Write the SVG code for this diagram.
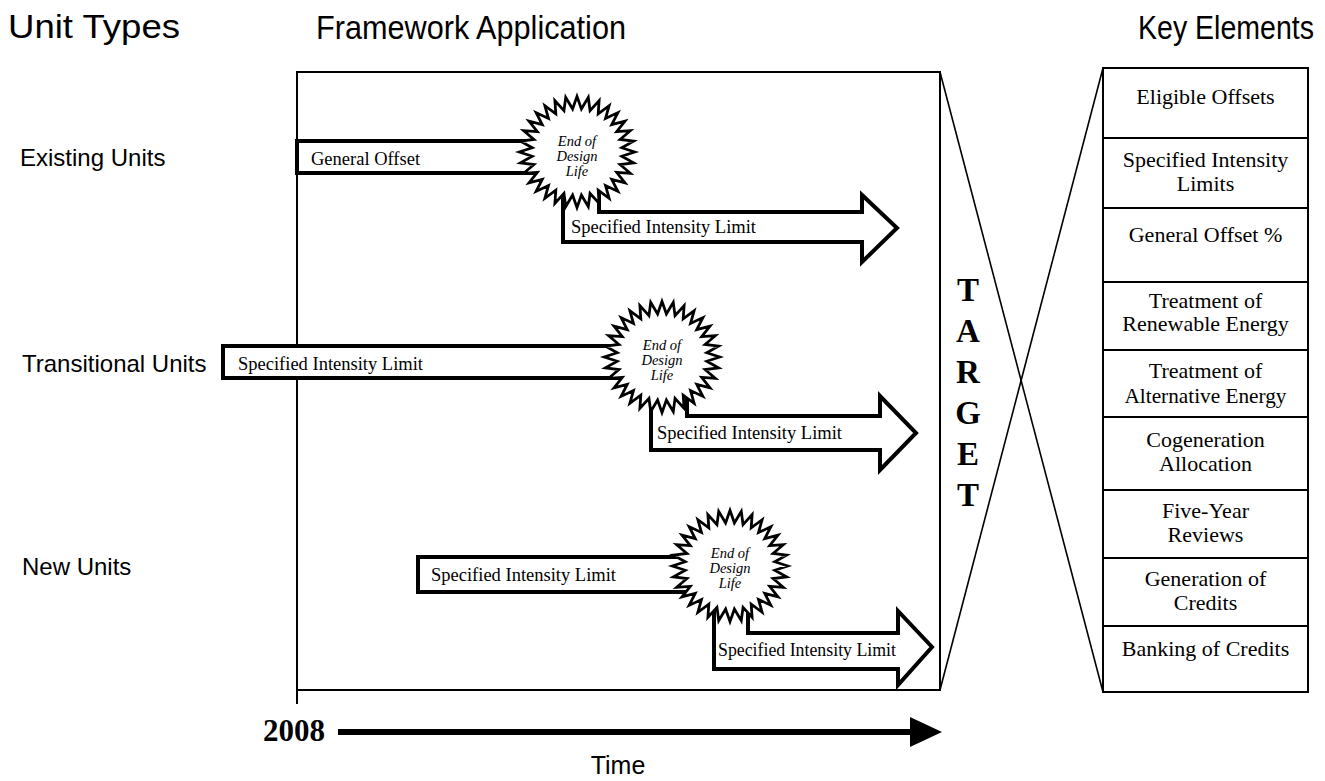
<svg xmlns="http://www.w3.org/2000/svg" xmlns:xlink="http://www.w3.org/1999/xlink" width="1325" height="781" viewBox="0 0 1325 781">
  <style>
    .hdr { font-family: "Liberation Sans", Arial, sans-serif; font-size: 34px; fill: #000; }
    .unit { font-family: "Liberation Sans", Arial, sans-serif; font-size: 24px; fill: #000; }
    .bar { fill: #fff; stroke: #000; stroke-width: 4; stroke-linejoin: miter; }
    .lbl { font-family: "Liberation Serif", "Times New Roman", serif; font-size: 18.5px; fill: #000; }
    .eod { font-family: "Liberation Serif", "Times New Roman", serif; font-size: 14.5px; font-style: italic; fill: #000; text-anchor: middle; }
    .burst { fill: #fff; stroke: #000; stroke-width: 2.6; stroke-linejoin: miter; }
    .frame { fill: none; stroke: #000; stroke-width: 2; }
    .key { font-family: "Liberation Serif", "Times New Roman", serif; font-size: 22px; fill: #000; text-anchor: middle; }
    .tgt { font-family: "Liberation Serif", "Times New Roman", serif; font-size: 33px; font-weight: bold; fill: #000; text-anchor: middle; }
    .thin { fill: none; stroke: #000; stroke-width: 1.6; }
  </style>
  <defs>
    <!-- 32-point starburst, outer radius 54, inner radius 42 -->
    <polygon id="burst" class="burst" points="54,0 41.8,4.12 52.96,10.53 40.19,12.19 49.89,20.66 37.04,19.8 44.9,30 32.47,26.64 38.18,38.18 26.64,32.47 30,44.9 19.8,37.04 20.66,49.89 12.19,40.19 10.53,52.96 4.12,41.8 0,54 -4.12,41.8 -10.53,52.96 -12.19,40.19 -20.66,49.89 -19.8,37.04 -30,44.9 -26.64,32.47 -38.18,38.18 -32.47,26.64 -44.9,30 -37.04,19.8 -49.89,20.66 -40.19,12.19 -52.96,10.53 -41.8,4.12 -54,0 -41.8,-4.12 -52.96,-10.53 -40.19,-12.19 -49.89,-20.66 -37.04,-19.8 -44.9,-30 -32.47,-26.64 -38.18,-38.18 -26.64,-32.47 -30,-44.9 -19.8,-37.04 -20.66,-49.89 -12.19,-40.19 -10.53,-52.96 -4.12,-41.8 0,-54 4.12,-41.8 10.53,-52.96 12.19,-40.19 20.66,-49.89 19.8,-37.04 30,-44.9 26.64,-32.47 38.18,-38.18 32.47,-26.64 44.9,-30 37.04,-19.8 49.89,-20.66 40.19,-12.19 52.96,-10.53 41.8,-4.12"/>
  </defs>

  <rect width="1325" height="781" fill="#fff"/>

  <!-- column headings -->
  <g id="headings">
    <text class="hdr" x="8" y="38" textLength="172" lengthAdjust="spacingAndGlyphs">Unit Types</text>
    <text class="hdr" x="316" y="39" textLength="310" lengthAdjust="spacingAndGlyphs">Framework Application</text>
    <text class="hdr" x="1138" y="39" textLength="176" lengthAdjust="spacingAndGlyphs">Key Elements</text>
  </g>

  <!-- framework panel -->
  <g id="frame">
    <rect class="frame" x="297" y="72" width="643" height="618"/>
    <line class="frame" x1="297" y1="690" x2="297" y2="704"/>
  </g>

  <!-- unit type labels -->
  <g id="unit-existing"><text class="unit" x="20" y="166">Existing Units</text></g>
  <g id="unit-transitional"><text class="unit" x="22" y="372">Transitional Units</text></g>
  <g id="unit-new"><text class="unit" x="22" y="575">New Units</text></g>

  <!-- existing units -->
  <g id="existing-offset">
    <rect class="bar" x="297" y="141" width="260" height="32"/>
    <text class="lbl" x="311" y="165">General Offset</text>
  </g>
  <g id="existing-limit">
    <polygon class="bar" points="563,170 563,242 862,242 862,262 897,228 862,195 862,212 599,212 599,170"/>
    <text class="lbl" x="571" y="233">Specified Intensity Limit</text>
  </g>
  <g id="existing-eod">
    <use href="#burst" transform="translate(577,152) scale(1.07,1.03)"/>
    <text class="eod" x="577" y="146">End of</text>
    <text class="eod" x="577" y="161">Design</text>
    <text class="eod" x="577" y="176">Life</text>
  </g>

  <!-- transitional units -->
  <g id="transitional-limit">
    <rect class="bar" x="223" y="346" width="420" height="32"/>
    <text class="lbl" x="238" y="370">Specified Intensity Limit</text>
  </g>
  <g id="transitional-limit2">
    <polygon class="bar" points="651,375 651,450 880,450 880,470 916,433 880,396 880,416 687,416 687,375"/>
    <text class="lbl" x="657" y="439">Specified Intensity Limit</text>
  </g>
  <g id="transitional-eod">
    <use href="#burst" transform="translate(662,357) scale(1.07,1.03)"/>
    <text class="eod" x="662" y="350">End of</text>
    <text class="eod" x="662" y="365">Design</text>
    <text class="eod" x="662" y="380">Life</text>
  </g>

  <!-- new units -->
  <g id="new-limit">
    <rect class="bar" x="418" y="557" width="290" height="35"/>
    <text class="lbl" x="431" y="581">Specified Intensity Limit</text>
  </g>
  <g id="new-limit2">
    <polygon class="bar" points="714,585 714,669 898,669 898,685 932,647 898,611 898,633 748,633 748,585"/>
    <text class="lbl" x="718" y="656" textLength="178" lengthAdjust="spacingAndGlyphs">Specified Intensity Limit</text>
  </g>
  <g id="new-eod">
    <use href="#burst" transform="translate(730,566) scale(1.07,1.03)"/>
    <text class="eod" x="730" y="558">End of</text>
    <text class="eod" x="730" y="573">Design</text>
    <text class="eod" x="730" y="588">Life</text>
  </g>

  <!-- target -->
  <g id="target">
    <text class="tgt" x="968" y="301">T</text>
    <text class="tgt" x="968" y="342">A</text>
    <text class="tgt" x="968" y="383">R</text>
    <text class="tgt" x="968" y="424">G</text>
    <text class="tgt" x="968" y="465">E</text>
    <text class="tgt" x="968" y="506">T</text>
  </g>

  <!-- connectors: crossing lines and time axis -->
  <g id="connectors">
    <line class="thin" x1="940" y1="72" x2="1103" y2="692"/>
    <line class="thin" x1="1103" y1="68" x2="940" y2="690"/>
    <line x1="338" y1="732" x2="912" y2="732" stroke="#000" stroke-width="6"/>
    <polygon points="910,717 942,732 910,747" fill="#000"/>
  </g>

  <g id="time-axis">
    <text x="263" y="741" font-family="'Liberation Serif', 'Times New Roman', serif" font-size="31" font-weight="bold">2008</text>
    <text x="618" y="774" font-family="'Liberation Sans', Arial, sans-serif" font-size="25" text-anchor="middle">Time</text>
  </g>

  <!-- key elements -->
  <g id="key-elements">
    <rect class="frame" x="1103" y="68" width="205" height="624"/>
    <g class="frame">
      <line x1="1103" y1="138" x2="1308" y2="138"/>
      <line x1="1103" y1="208" x2="1308" y2="208"/>
      <line x1="1103" y1="282" x2="1308" y2="282"/>
      <line x1="1103" y1="350" x2="1308" y2="350"/>
      <line x1="1103" y1="417" x2="1308" y2="417"/>
      <line x1="1103" y1="490" x2="1308" y2="490"/>
      <line x1="1103" y1="558" x2="1308" y2="558"/>
      <line x1="1103" y1="626" x2="1308" y2="626"/>
    </g>
    <g id="key-eligible"><text class="key" x="1205.5" y="104">Eligible Offsets</text></g>
    <g id="key-limits"><text class="key" x="1205.5" y="167">Specified Intensity</text><text class="key" x="1205.5" y="191">Limits</text></g>
    <g id="key-offset"><text class="key" x="1205.5" y="242">General Offset %</text></g>
    <g id="key-renewable"><text class="key" x="1205.5" y="308">Treatment of</text><text class="key" x="1205.5" y="331">Renewable Energy</text></g>
    <g id="key-alternative"><text class="key" x="1205.5" y="378">Treatment of</text><text class="key" x="1205.5" y="403" textLength="162" lengthAdjust="spacingAndGlyphs">Alternative Energy</text></g>
    <g id="key-cogen"><text class="key" x="1205.5" y="447">Cogeneration</text><text class="key" x="1205.5" y="471">Allocation</text></g>
    <g id="key-review"><text class="key" x="1205.5" y="518">Five-Year</text><text class="key" x="1205.5" y="542">Reviews</text></g>
    <g id="key-generation"><text class="key" x="1205.5" y="586">Generation of</text><text class="key" x="1205.5" y="610">Credits</text></g>
    <g id="key-banking"><text class="key" x="1205.5" y="656">Banking of Credits</text></g>
  </g>
</svg>
